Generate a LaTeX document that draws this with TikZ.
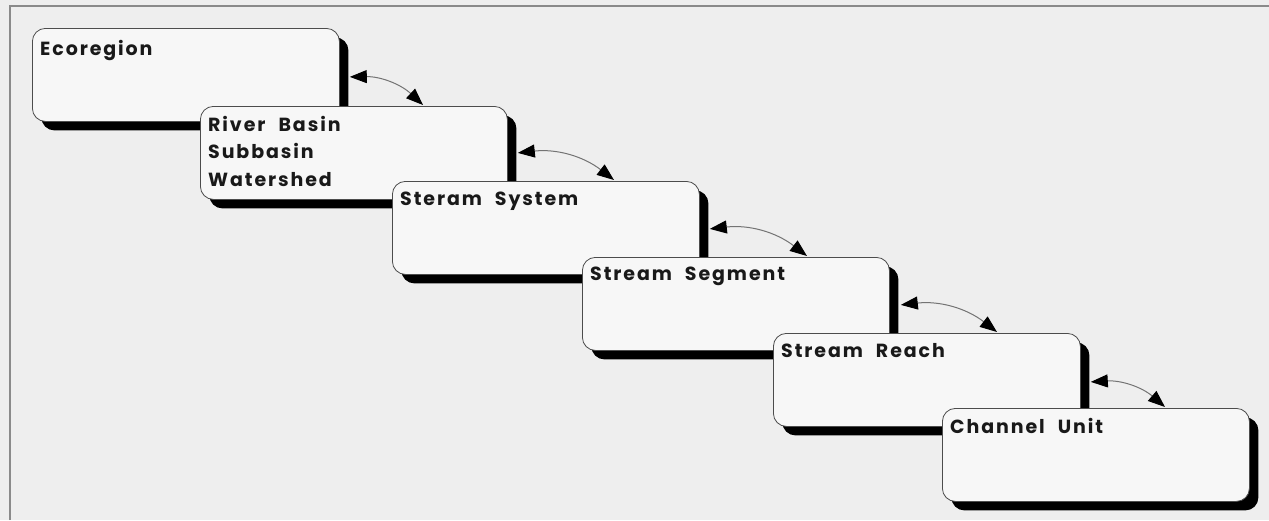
\documentclass[tikz,border=0pt]{standalone}
\usepackage{fontspec}
\setmainfont{Poppins}
\newfontfamily\boxfont{Poppins}[LetterSpace=10,WordSpace=2.2,BoldFeatures={LetterSpace=10,WordSpace=2.2}]
\usetikzlibrary{arrows.meta,shadows,calc}
\definecolor{bgc}{HTML}{EEEEEE}
\definecolor{boxc}{HTML}{F7F7F7}
\definecolor{framec}{HTML}{8A8A8A}
\begin{document}
\begin{tikzpicture}[x=1pt,y=-1pt,
  level/.style={draw=black!70, line width=0.8pt, fill=boxc, rounded corners=13pt,
    minimum width=307pt, minimum height=93pt, anchor=north west, inner sep=0pt,
    drop shadow={shadow xshift=9pt, shadow yshift=-9pt, fill=black, opacity=1}},
  lbl/.style={anchor=north west, inner sep=0pt, align=left,
    font=\boxfont\bfseries\fontsize{19}{27.5}\selectfont, text=black!90},
  tip/.style={Triangle[length=17pt,width=13pt,color=black]},
  link/.style={draw=black!55, line width=1pt, {Triangle[length=17pt,width=13pt,color=black]}-{Triangle[length=17pt,width=13pt,color=black]},
    bend left=22}]
\fill[bgc] (0,0) rectangle (1269,520);
\useasboundingbox (0,0) rectangle (1269,520);
\coordinate (fa) at (10,520);
\coordinate (fb) at (10,6);
\coordinate (fc) at (1269,6);
\draw[framec, line width=1.4pt] (fa) -- (fb) -- (fc);

\node[level] (eco) at (32,28) {};
\node[lbl] (teco) at ($(eco.north west)+(8,12)$) {Ecoregion};
\node[level] (riv) at (200,106) {};
\node[lbl] (triv) at ($(riv.north west)+(8,10)$) {River Basin\\Subbasin\\Watershed};
\node[level] (sys) at (392,181) {};
\node[lbl] (tsys) at ($(sys.north west)+(8,11)$) {Steram System};
\node[level] (seg) at (582,257) {};
\node[lbl] (tseg) at ($(seg.north west)+(8,10)$) {Stream Segment};
\node[level] (rea) at (773,333) {};
\node[lbl] (trea) at ($(rea.north west)+(8,10)$) {Stream Reach};
\node[level] (chu) at (942,408) {};
\node[lbl] (tchu) at ($(chu.north west)+(8,10)$) {Channel Unit};

\draw[link] ($(eco.east)+(10,2)$) to ($(riv.north west)+(223,-1)$);
\draw[link] ($(riv.east)+(10,0)$) to ($(sys.north west)+(222,-1)$);
\draw[link] ($(sys.east)+(10,1)$) to ($(seg.north west)+(225,-1)$);
\draw[link] ($(seg.east)+(11,1)$) to ($(rea.north west)+(224,-1)$);
\draw[link] ($(rea.east)+(10,2)$) to ($(chu.north west)+(223,-1)$);
\end{tikzpicture}
\end{document}
